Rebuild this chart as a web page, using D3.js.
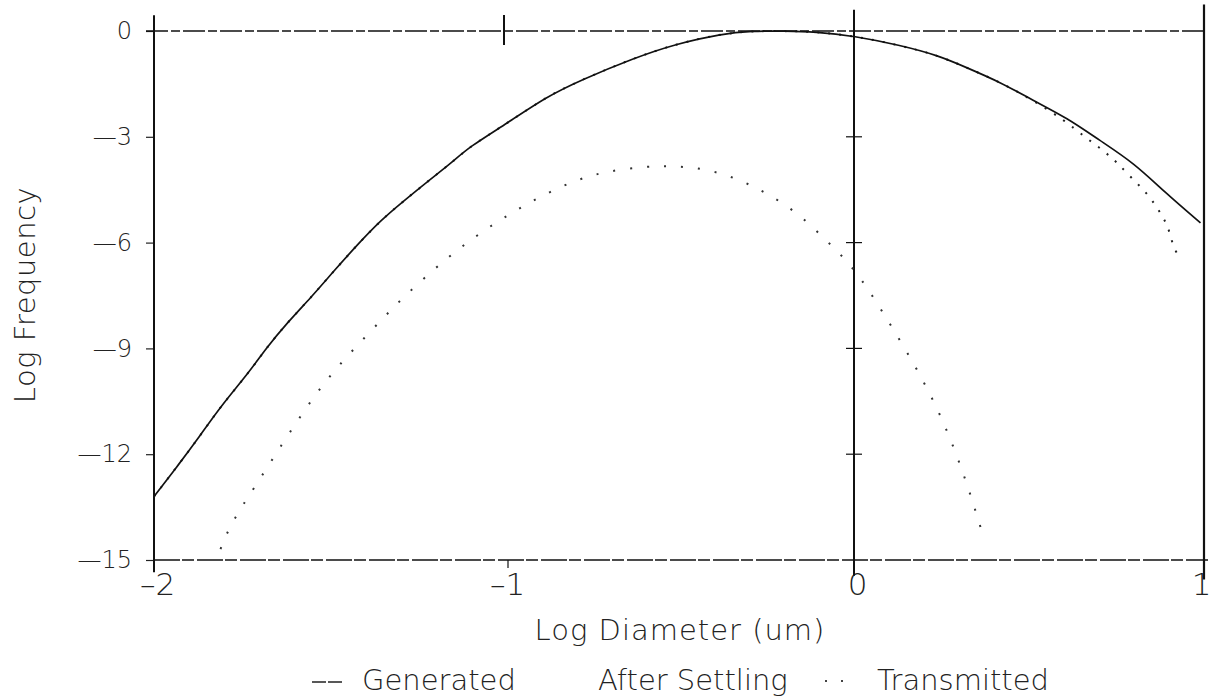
<!DOCTYPE html>
<html>
<head>
<meta charset="utf-8">
<script src="https://cdn.jsdelivr.net/npm/d3@7"></script>
<style>
  body { margin: 0; background: #fff; }
  text { font-family: "DejaVu Sans", sans-serif; font-weight: 200; fill: #222; }
</style>
</head>
<body>
<div class="chart"></div>
<script>
var svgWidth = 1214;
var svgHeight = 700;

// values: [log diameter, log frequency]
var generated = [
  [-2.00, -13.20], [-1.93, -12.30], [-1.87, -11.50], [-1.81, -10.65], [-1.73, -9.70],
  [-1.68, -9.00], [-1.62, -8.28], [-1.55, -7.54], [-1.49, -6.85], [-1.42, -6.07],
  [-1.35, -5.35], [-1.29, -4.85], [-1.22, -4.28], [-1.15, -3.74], [-1.10, -3.29],
  [-0.99, -2.61], [-0.88, -1.87], [-0.78, -1.39], [-0.63, -0.77], [-0.51, -0.37],
  [-0.38, -0.08], [-0.29, 0.00], [-0.20, 0.00], [-0.11, -0.02], [0.00, -0.14],
  [0.13, -0.40], [0.24, -0.69], [0.32, -1.03], [0.42, -1.46], [0.51, -1.96],
  [0.61, -2.47], [0.70, -3.09], [0.80, -3.74], [0.89, -4.59], [0.99, -5.44]
];

var afterSettling = [
  [-2.00, -13.20], [-1.93, -12.30], [-1.87, -11.50], [-1.81, -10.65], [-1.73, -9.70],
  [-1.68, -9.00], [-1.62, -8.28], [-1.55, -7.54], [-1.49, -6.85], [-1.42, -6.07],
  [-1.35, -5.35], [-1.29, -4.85], [-1.22, -4.28], [-1.15, -3.74], [-1.10, -3.29],
  [-0.99, -2.61], [-0.88, -1.87], [-0.78, -1.39], [-0.63, -0.77], [-0.51, -0.37],
  [-0.38, -0.08], [-0.29, 0.00], [-0.20, 0.00], [-0.11, -0.02], [0.00, -0.14],
  [0.13, -0.40], [0.24, -0.69], [0.32, -1.03], [0.42, -1.46], [0.51, -1.96],
  [0.60, -2.52], [0.66, -3.01], [0.71, -3.37], [0.75, -3.71], [0.79, -4.14],
  [0.84, -4.62], [0.88, -5.22], [0.90, -5.61], [0.91, -6.07], [0.93, -6.44]
];

var transmitted = [
  [-1.81, -14.69], [-1.78, -13.95], [-1.71, -12.90], [-1.63, -11.65], [-1.57, -10.75],
  [-1.51, -9.92], [-1.44, -9.13], [-1.35, -8.19], [-1.29, -7.57], [-1.20, -6.75],
  [-1.12, -6.10], [-1.03, -5.47], [-0.95, -4.99], [-0.87, -4.56], [-0.78, -4.17],
  [-0.70, -3.97], [-0.59, -3.83], [-0.51, -3.83], [-0.42, -3.91], [-0.33, -4.20],
  [-0.25, -4.59], [-0.16, -5.16], [-0.08, -5.93], [-0.01, -6.61], [0.05, -7.46],
  [0.11, -8.42], [0.18, -9.58], [0.25, -10.92], [0.31, -12.45], [0.35, -13.69],
  [0.37, -14.35]
];

var xTicks = [-2, -1, 0, 1];
var yTicks = [0, -3, -6, -9, -12, -15];
var legendLabels = ["Generated", "After Settling", "Transmitted"];

var svg = d3.select(".chart")
  .append("svg")
  .attr("width", svgWidth)
  .attr("height", svgHeight);

var xScale = d3.scaleLinear().domain([-2, 1]).range([154, 1204]);
var yScale = d3.scaleLinear().domain([-15, 0]).range([560, 31]);

var fmt = function(d) { return d === 0 ? "0" : "\u2014" + Math.abs(d); };

// left axis
var leftAxis = d3.axisLeft(yScale)
  .tickValues(yTicks)
  .tickSize(8)
  .tickPadding(14)
  .tickFormat(fmt);

var gy = svg.append("g")
  .attr("transform", `translate(${xScale(-2)},0)`)
  .call(leftAxis);
gy.select(".domain").remove();
gy.selectAll(".tick line").attr("stroke", "#222").attr("stroke-width", 1.2);
gy.selectAll(".tick text").attr("font-size", 24).attr("fill", "#222")
  .style("font-family", "DejaVu Sans").style("font-weight", 200);

// bottom labels
var bottomAxis = d3.axisBottom(xScale)
  .tickValues(xTicks)
  .tickSize(0)
  .tickPadding(13)
  .tickFormat(function(d) { return d < 0 ? "\u2013" + Math.abs(d) : String(d); });

var gx = svg.append("g")
  .attr("transform", `translate(3,${yScale(-15)})`)
  .call(bottomAxis);
gx.select(".domain").remove();
gx.selectAll(".tick text").attr("font-size", 31).attr("fill", "#222")
  .style("font-family", "DejaVu Sans").style("font-weight", 200);
// keep the last label inside the page
gx.selectAll(".tick text").filter(d => d === 1).attr("x", -6);

// frame lines
var frame = svg.append("g").attr("stroke", "#111").attr("fill", "none");
frame.append("line")
  .attr("x1", xScale(-2)).attr("x2", xScale(-2))
  .attr("y1", yScale(0.45)).attr("y2", yScale(-15.35))
  .attr("stroke-width", 2);
frame.append("line")
  .attr("x1", xScale(0)).attr("x2", xScale(0))
  .attr("y1", yScale(0.6)).attr("y2", yScale(-15.45))
  .attr("stroke-width", 2);
frame.append("line")
  .attr("x1", xScale(1)).attr("x2", xScale(1))
  .attr("y1", yScale(0.75)).attr("y2", yScale(-15.55))
  .attr("stroke-width", 2.2);
frame.append("line")
  .attr("x1", xScale(-2) - 8).attr("x2", xScale(1))
  .attr("y1", yScale(0)).attr("y2", yScale(0))
  .attr("stroke-width", 1.3)
  .attr("stroke-dasharray", "22,3,9,3");
frame.append("line")
  .attr("x1", xScale(-2)).attr("x2", xScale(1) + 4)
  .attr("y1", yScale(-15)).attr("y2", yScale(-15))
  .attr("stroke-width", 1.4)
  .attr("stroke-dasharray", "26,2,12,3");

// tick at -1 on top line and bottom line
frame.append("line")
  .attr("x1", xScale(-1)).attr("x2", xScale(-1))
  .attr("y1", yScale(0) - 16).attr("y2", yScale(0) + 14)
  .attr("stroke-width", 2);
frame.append("line")
  .attr("x1", xScale(-1) + 4).attr("x2", xScale(-1) + 4)
  .attr("y1", yScale(-15)).attr("y2", yScale(-15) + 8)
  .attr("stroke-width", 1.2);

// crosses on the x = 0 line
frame.selectAll("line.cross")
  .data(yTicks.filter(function(d) { return d < 0 && d > -15; }))
  .enter()
  .append("line")
  .attr("class", "cross")
  .attr("x1", xScale(0) - 8).attr("x2", xScale(0) + 8)
  .attr("y1", d => yScale(d)).attr("y2", d => yScale(d))
  .attr("stroke-width", 1.2);

// curves
var line = d3.line()
  .x(d => xScale(d[0]))
  .y(d => yScale(d[1]))
  .curve(d3.curveBasis);

svg.append("path")
  .datum(afterSettling)
  .attr("d", line)
  .attr("fill", "none")
  .attr("stroke", "#222")
  .attr("stroke-width", 2)
  .attr("stroke-dasharray", "2,9");

svg.append("path")
  .datum(generated)
  .attr("d", line)
  .attr("fill", "none")
  .attr("stroke", "#111")
  .attr("stroke-width", 1.7);

svg.append("path")
  .datum(transmitted)
  .attr("d", line)
  .attr("fill", "none")
  .attr("stroke", "#333")
  .attr("stroke-width", 2)
  .attr("stroke-dasharray", "2,15");

// axis titles
svg.append("text")
  .attr("x", 680)
  .attr("y", 640)
  .attr("text-anchor", "middle")
  .attr("font-size", 29)
  .attr("letter-spacing", 1)
  .text("Log Diameter (um)");

svg.append("text")
  .attr("transform", "translate(35,295) rotate(-90)")
  .attr("text-anchor", "middle")
  .attr("font-size", 29)
  .attr("letter-spacing", 0.5)
  .text("Log Frequency");

// legend
var legendX = [362, 598, 877];
var legend = svg.append("g");
legend.selectAll("text")
  .data(legendLabels)
  .enter()
  .append("text")
  .attr("x", (d, i) => legendX[i])
  .attr("y", 690)
  .attr("font-size", 29)
  .text(d => d);

legend.append("line")
  .attr("x1", 312).attr("x2", 343)
  .attr("y1", 682).attr("y2", 682)
  .attr("stroke", "#222")
  .attr("stroke-width", 1.4)
  .attr("stroke-dasharray", "14,2");

legend.append("line")
  .attr("x1", 825).attr("x2", 843)
  .attr("y1", 681).attr("y2", 681)
  .attr("stroke", "#444")
  .attr("stroke-width", 2)
  .attr("stroke-dasharray", "2,14");
</script>
</body>
</html>
